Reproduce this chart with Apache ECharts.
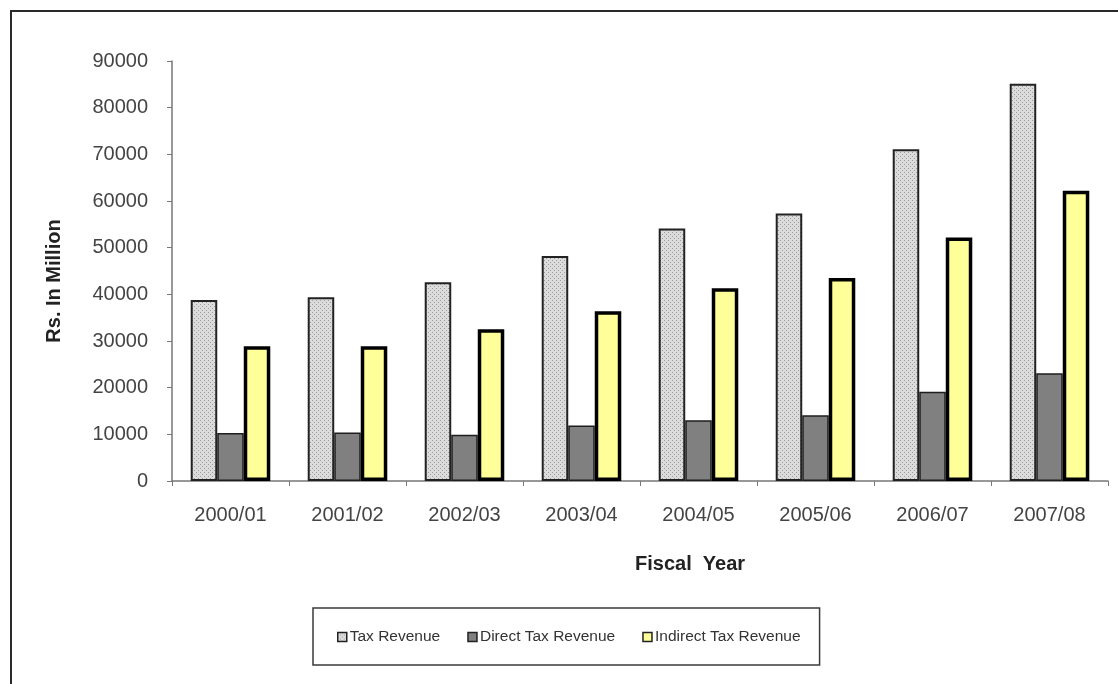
<!DOCTYPE html>
<html>
<head>
<meta charset="utf-8">
<script src="https://cdn.jsdelivr.net/npm/echarts@6/dist/echarts.min.js"></script>
<style>
  html, body { margin: 0; padding: 0; background: #ffffff; }
  #chart { width: 1118px; height: 684px; }
</style>
</head>
<body>
<div id="chart"></div>
<script>
// Fiscal years on the category axis
var years = ['2000/01', '2001/02', '2002/03', '2003/04', '2004/05', '2005/06', '2006/07', '2007/08'];

// Revenue figures, Rs. in million
var taxRevenue = [38800, 39400, 42600, 48200, 54100, 57300, 71100, 85100];
var directTaxRevenue = [10300, 10400, 9900, 11900, 13000, 14100, 19100, 23100];
var indirectTaxRevenue = [28900, 28900, 32500, 36400, 41300, 43500, 52200, 62200];

var seriesNames = ['Tax Revenue', 'Direct Tax Revenue', 'Indirect Tax Revenue'];

// Fine dotted fill for the total tax revenue bars
function dotPattern() {
  var c = document.createElement('canvas');
  c.width = 4; c.height = 4;
  var g = c.getContext('2d');
  g.fillStyle = '#dcdcdc';
  g.fillRect(0, 0, 4, 4);
  g.fillStyle = '#9c9c9c';
  g.fillRect(0, 0, 1, 1);
  g.fillRect(2, 2, 1, 1);
  return c;
}

var font = '"Liberation Sans", Arial, sans-serif';
var chart = echarts.init(document.getElementById('chart'), null, { renderer: 'canvas' });

chart.setOption({
  backgroundColor: '#ffffff',
  animation: false,
  textStyle: { fontFamily: font },
  grid: { left: 172, right: 10, top: 61, bottom: 203, containLabel: false },
  legend: {
    data: seriesNames,
    left: 313,
    top: 608,
    width: 490,
    padding: [21, 19, 20, 24],
    itemGap: 27,
    itemWidth: 9,
    itemHeight: 9,
    icon: 'rect',
    borderColor: '#3a3a3a',
    borderWidth: 1.5,
    itemStyle: { borderColor: '#222222', borderWidth: 1.5 },
    textStyle: { fontFamily: font, fontSize: 15.5, color: '#333333', padding: [0, 0, 0, -2] }
  },
  xAxis: {
    type: 'category',
    data: years,
    axisLine: { lineStyle: { color: '#777777', width: 1.5 } },
    axisTick: { show: true, alignWithLabel: false, length: 5, lineStyle: { color: '#777777' } },
    axisLabel: { fontSize: 20, color: '#444444', margin: 24, fontFamily: font }
  },
  yAxis: {
    type: 'value',
    min: 0,
    max: 90000,
    interval: 10000,
    name: 'Rs. In Million',
    nameLocation: 'middle',
    nameGap: 108,
    nameTextStyle: { fontSize: 20, fontWeight: 'bold', color: '#222222', fontFamily: font, padding: [0, 20, 0, 0] },
    splitLine: { show: false },
    axisLine: { show: true, lineStyle: { color: '#777777', width: 1.5 } },
    axisTick: { show: true, length: 5, lineStyle: { color: '#777777' } },
    axisLabel: {
      fontSize: 20, color: '#444444', margin: 24, fontFamily: font,
      formatter: function (v) { return String(v); }
    }
  },
  series: [
    {
      name: seriesNames[0],
      type: 'bar',
      data: taxRevenue,
      barGap: '0%',
      barCategoryGap: '32%',
      itemStyle: {
        color: { image: dotPattern(), repeat: 'repeat' },
        borderColor: '#222222',
        borderWidth: 2
      }
    },
    {
      name: seriesNames[1],
      type: 'bar',
      data: directTaxRevenue,
      barGap: '0%',
      barCategoryGap: '32%',
      itemStyle: { color: '#808080', borderColor: '#1e1e1e', borderWidth: 1.5 }
    },
    {
      name: seriesNames[2],
      type: 'bar',
      data: indirectTaxRevenue,
      barGap: '0%',
      barCategoryGap: '32%',
      itemStyle: { color: '#ffff99', borderColor: '#000000', borderWidth: 3.5 }
    }
  ],
  graphic: [
    // outer frame (left and top edges)
    { type: 'polyline', silent: true, shape: { points: [[11, 700], [11, 11], [1130, 11]] },
      style: { stroke: '#2a2a2a', lineWidth: 2, fill: null } },
    // category axis title
    { type: 'text', left: 635, top: 554, silent: true,
      style: { text: 'Fiscal  Year', font: 'bold 20px ' + font, fill: '#222222' } }
  ]
});
</script>
</body>
</html>
